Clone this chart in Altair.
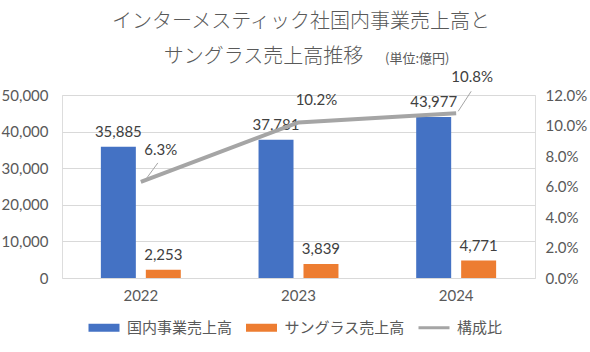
import altair as alt
import pandas as pd

years = ["2022", "2023", "2024"]
domestic = [35885, 37781, 43977]
sunglasses = [2253, 3839, 4771]
ratio = [0.063, 0.102, 0.108]
series_names = ["国内事業売上高", "サングラス売上高", "構成比"]
colors = ["#4472C4", "#ED7D31", "#A5A5A5"]
left_ticks = [0, 10000, 20000, 30000, 40000, 50000]
right_ticks = [0, 0.02, 0.04, 0.06, 0.08, 0.10, 0.12]
title_lines = ["インターメスティック社国内事業売上高と", "サングラス売上高推移"]
unit_text = "(単位:億円)"

bars_df = pd.DataFrame({
    "year": years * 2,
    "series": [series_names[0]] * 3 + [series_names[1]] * 3,
    "value": domestic + sunglasses,
})
ratio_df = pd.DataFrame({"year": years, "ratio": ratio})
legend_df = pd.DataFrame({"series": series_names})

GRAY = "#595959"
DARK = "#404040"
NUM_FONT = "Lato"
JP_FONT = "Noto Sans CJK JP"

x_enc = alt.X(
    "year:N",
    sort=years,
    scale=alt.Scale(paddingInner=0.493, paddingOuter=0.2465),
    axis=alt.Axis(title=None, labelAngle=0, domain=False, ticks=False,
                  labelFont=NUM_FONT, labelFontSize=15, labelColor=GRAY,
                  labelPadding=10, grid=False),
)
xoff_enc = alt.XOffset("series:N", sort=series_names[:2],
                       scale=alt.Scale(domain=series_names[:2], paddingInner=0.222, paddingOuter=0))
y_left = alt.Y(
    "value:Q",
    scale=alt.Scale(domain=[0, 50000], nice=False),
    axis=alt.Axis(values=left_ticks, format=",.0f", title=None, domain=False, ticks=False,
                  gridColor="#D9D9D9", labelFont=NUM_FONT, labelFontSize=15,
                  labelColor=GRAY, labelPadding=14),
)
y_right = alt.Y(
    "ratio:Q",
    scale=alt.Scale(domain=[0, 0.12], nice=False),
    axis=alt.Axis(values=right_ticks, format=".1%", title=None, domain=False, ticks=False,
                  grid=False, orient="right", labelFont=NUM_FONT, labelFontSize=15,
                  labelColor=GRAY, labelPadding=10),
)
color_scale = alt.Scale(domain=series_names, range=colors)

bar_path = "M-3.1,-0.8H3.1V0.8H-3.1Z"
line_path = "M-3.1,-0.3H3.1V0.3H-3.1Z"
legend_props = dict(
    orient="none", legendX=34.5, legendY=225, direction="horizontal", title=None,
    symbolSize=100, symbolStrokeWidth=0, labelOffset=15.5, columnPadding=13.5,
    labelFont=JP_FONT, labelFontSize=15, labelColor=GRAY,
)

bars = alt.Chart(bars_df).mark_bar().encode(
    x=x_enc, xOffset=xoff_enc, y=y_left,
    color=alt.Color("series:N", scale=color_scale, legend=alt.Legend(**legend_props)),
)
bar_labels = alt.Chart(bars_df).mark_text(
    baseline="bottom", dy=-7, font=NUM_FONT, fontSize=15, color=DARK
).encode(
    x=x_enc, xOffset=xoff_enc, y=y_left,
    text=alt.Text("value:Q", format=","),
)
left = alt.layer(bars, bar_labels)

line = alt.Chart(ratio_df).mark_line(color="#A5A5A5", strokeWidth=4).encode(
    x=x_enc, y=y_right,
)
offsets = [(20, -32), (18, -22), (16, -36)]
ratio_labels = []
for yr, (dx, dy) in zip(years, offsets):
    ratio_labels.append(
        alt.Chart(ratio_df).transform_filter(alt.datum.year == yr).mark_text(
            dx=dx, dy=dy, font=NUM_FONT, fontSize=15, color=DARK
        ).encode(x=x_enc, y=y_right, text=alt.Text("ratio:Q", format=".1%"))
    )
# leader lines for the labels placed away from their points
leaders = []
for yr, (ox1, oy1, ox2, oy2) in [("2022", (6, -4, 17, -19)), ("2024", (2, -2, 15, -22))]:
    leaders.append(
        alt.Chart(ratio_df).transform_filter(alt.datum.year == yr).mark_rule(
            color="#A5A5A5", strokeWidth=1,
            xOffset=ox1, yOffset=oy1, x2Offset=ox2, y2Offset=oy2,
        ).encode(x=x_enc, x2="year:N", y=y_right, y2="ratio:Q")
    )
right = alt.layer(line, *leaders, *ratio_labels)

legend_layer = alt.Chart(legend_df).mark_point(
    filled=True, opacity=1, size=0
).encode(
    color=alt.Color("series:N", scale=color_scale, legend=alt.Legend(**legend_props)),
    shape=alt.Shape("series:N", scale=alt.Scale(domain=series_names, range=[bar_path, bar_path, line_path]),
                    legend=alt.Legend(**legend_props)),
)

title1 = alt.Chart(pd.DataFrame({"t": [title_lines[0]]})).mark_text(
    align="center", baseline="middle", font=JP_FONT, fontSize=20, fontWeight=300, color=GRAY
).encode(x=alt.value(239), y=alt.value(-73), text="t:N")
title2 = alt.Chart(pd.DataFrame({"t": [title_lines[1]]})).mark_text(
    align="center", baseline="middle", font=JP_FONT, fontSize=20, fontWeight=300, color=GRAY
).encode(x=alt.value(201.5), y=alt.value(-38), text="t:N")
unit = alt.Chart(pd.DataFrame({"t": [unit_text]})).mark_text(
    align="left", baseline="middle", font=JP_FONT, fontSize=13, color=GRAY
).encode(x=alt.value(323), y=alt.value(-36), text="t:N")

chart = alt.layer(left, right, legend_layer, title1, title2, unit).resolve_scale(
    y="independent"
).properties(
    width=473, height=183,
    autosize=alt.AutoSizeParams(type="none"),
    padding={"left": 62, "top": 95, "right": 55, "bottom": 74},
).configure_view(stroke=None).configure(background="white")

chart.save("out.html", embed_options={"renderer": "svg", "actions": False})
